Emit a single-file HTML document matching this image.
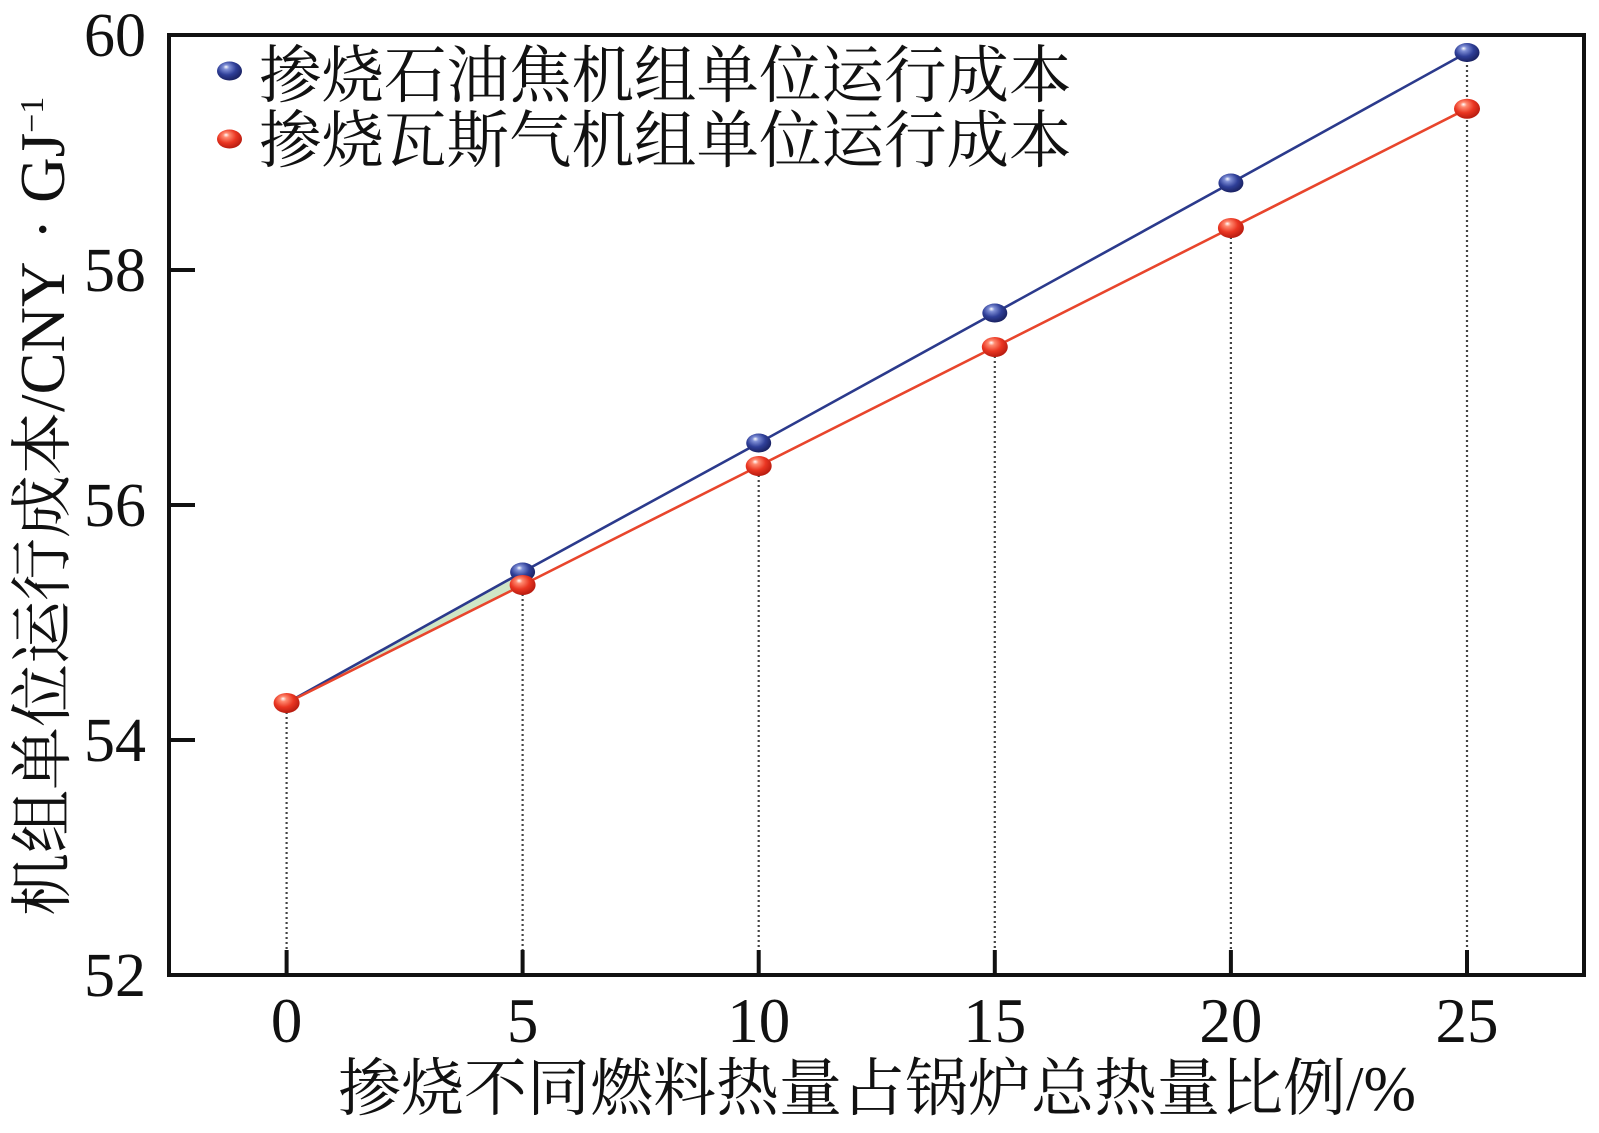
<!DOCTYPE html>
<html>
<head>
<meta charset="utf-8">
<style>
html,body{margin:0;padding:0;background:#fff;}
svg{display:block;}
text{font-family:"Liberation Serif","Noto Serif CJK SC",serif;fill:#111;}
</style>
</head>
<body>
<svg width="1599" height="1133" viewBox="0 0 1599 1133" xmlns="http://www.w3.org/2000/svg">
<defs>
<radialGradient id="gb" cx="0.42" cy="0.38" r="0.62" fx="0.36" fy="0.28">
<stop offset="0" stop-color="#ffffff"/>
<stop offset="0.2" stop-color="#7f8fd6"/>
<stop offset="0.6" stop-color="#2f3f98"/>
<stop offset="1" stop-color="#1a2262"/>
</radialGradient>
<radialGradient id="gr" cx="0.42" cy="0.38" r="0.62" fx="0.36" fy="0.28">
<stop offset="0" stop-color="#ffffff"/>
<stop offset="0.2" stop-color="#ff8a70"/>
<stop offset="0.6" stop-color="#ea3622"/>
<stop offset="1" stop-color="#b81c10"/>
</radialGradient>
</defs>

<!-- dotted drop lines -->
<g stroke="#444" stroke-width="2.2" stroke-dasharray="2 3" fill="none">
<line x1="286.6" y1="712" x2="286.6" y2="950"/>
<line x1="522.6" y1="594" x2="522.6" y2="950"/>
<line x1="758.7" y1="475" x2="758.7" y2="950"/>
<line x1="994.8" y1="356" x2="994.8" y2="950"/>
<line x1="1230.9" y1="237" x2="1230.9" y2="950"/>
<line x1="1467" y1="60" x2="1467" y2="950"/>
</g>

<!-- faint green band -->
<polygon points="286.6,703 522.6,572 522.6,585" fill="#cfe6c6"/>

<!-- series lines -->
<polyline points="286.6,703 522.6,572 758.7,443 994.8,313 1230.9,183 1467,52.5" fill="none" stroke="#2b3a8c" stroke-width="2.6"/>
<polyline points="286.6,703 522.6,585 758.7,466 994.8,347 1230.9,228 1467,108.7" fill="none" stroke="#e8452c" stroke-width="2.6"/>

<!-- blue balls -->
<g fill="url(#gb)">
<ellipse cx="522.6" cy="572" rx="12.5" ry="9.5"/>
<ellipse cx="758.7" cy="443" rx="12.5" ry="9.5"/>
<ellipse cx="994.8" cy="313" rx="12.5" ry="9.5"/>
<ellipse cx="1230.9" cy="183" rx="12.5" ry="9.5"/>
<ellipse cx="1467" cy="52.5" rx="12.5" ry="9.5"/>
</g>
<!-- red balls -->
<g fill="url(#gr)">
<ellipse cx="286.6" cy="703" rx="13" ry="10"/>
<ellipse cx="522.6" cy="585" rx="13" ry="10"/>
<ellipse cx="758.7" cy="466" rx="13" ry="10"/>
<ellipse cx="994.8" cy="347" rx="13" ry="10"/>
<ellipse cx="1230.9" cy="228" rx="13" ry="10"/>
<ellipse cx="1467" cy="108.7" rx="13" ry="10"/>
</g>

<!-- frame -->
<rect x="169" y="35" width="1415" height="940" fill="none" stroke="#111" stroke-width="4"/>

<!-- ticks -->
<g stroke="#111" stroke-width="4">
<line x1="286.6" y1="950" x2="286.6" y2="975"/>
<line x1="522.6" y1="950" x2="522.6" y2="975"/>
<line x1="758.7" y1="950" x2="758.7" y2="975"/>
<line x1="994.8" y1="950" x2="994.8" y2="975"/>
<line x1="1230.9" y1="950" x2="1230.9" y2="975"/>
<line x1="1467" y1="950" x2="1467" y2="975"/>
<line x1="169" y1="270" x2="195" y2="270"/>
<line x1="169" y1="505" x2="195" y2="505"/>
<line x1="169" y1="740" x2="195" y2="740"/>
</g>

<!-- y tick labels -->
<g font-size="62" text-anchor="end">
<text x="146" y="56">60</text>
<text x="146" y="291">58</text>
<text x="146" y="526">56</text>
<text x="146" y="761">54</text>
<text x="146" y="996">52</text>
</g>

<!-- x tick labels -->
<g font-size="63" text-anchor="middle">
<text x="286.6" y="1042">0</text>
<text x="522.6" y="1042">5</text>
<text x="758.7" y="1042">10</text>
<text x="994.8" y="1042">15</text>
<text x="1230.9" y="1042">20</text>
<text x="1467" y="1042">25</text>
</g>

<!-- x title -->
<text x="877" y="1110" font-size="63" text-anchor="middle">掺烧不同燃料热量占锅炉总热量比例/%</text>

<!-- y title -->
<text transform="translate(64,916) rotate(-90)" font-size="63">机组单位运行成本</text>
<text transform="translate(64,412) rotate(-90)" font-size="63">/CNY<tspan dx="21.6">·</tspan><tspan dx="16">GJ</tspan><tspan font-size="34" dy="-21">−1</tspan></text>

<!-- legend -->
<ellipse cx="229.5" cy="71" rx="12.5" ry="9.5" fill="url(#gb)"/>
<ellipse cx="229.5" cy="139" rx="12.5" ry="9.5" fill="url(#gr)"/>
<text x="259" y="97" font-size="62.5">掺烧石油焦机组单位运行成本</text>
<text x="259" y="162" font-size="62.5">掺烧瓦斯气机组单位运行成本</text>
</svg>
</body>
</html>
